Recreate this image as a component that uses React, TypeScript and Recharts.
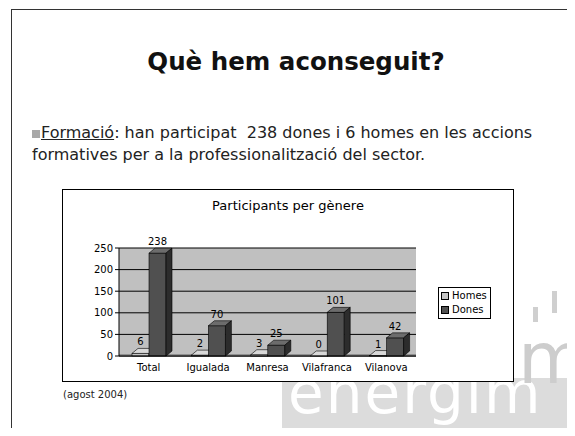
import React from "react"
import {BarChart, Bar, XAxis, YAxis, CartesianGrid, LabelList, ReferenceArea} from 'recharts';

const categories = ['Total', 'Igualada', 'Manresa', 'Vilafranca', 'Vilanova'];
const homes = [6, 2, 3, 0, 1];
const dones = [238, 70, 25, 101, 42];
const yTicks = [0, 50, 100, 150, 200, 250];

const data = categories.map((name, i) => ({ name, Homes: homes[i], Dones: dones[i] }));

const colors = {
    Homes: { front: '#c4c4c4', top: '#d8d8d8', side: '#9a9a9a' },
    Dones: { front: '#505050', top: '#6c6c6c', side: '#2c2c2c' },
};

const DX = 6;
const DY = 5;

// draws a bar as a small 3d box
const box = (key: 'Homes' | 'Dones') => (props: any) => {
    const { x, y, width, height } = props;
    const c = colors[key];
    const h = Math.max(height, 0);
    return (
        <g stroke="#000" strokeWidth={0.6}>
            <rect x={x} y={y} width={width} height={h} fill={c.front} />
            <polygon points={`${x},${y} ${x + DX},${y - DY} ${x + width + DX},${y - DY} ${x + width},${y}`} fill={c.top} />
            <polygon points={`${x + width},${y} ${x + width + DX},${y - DY} ${x + width + DX},${y + h - DY} ${x + width},${y + h}`} fill={c.side} />
        </g>
    );
};

const font = 'DejaVu Sans';

const App = () => {
    return (
        <div style={{ position: 'relative', margin: -8, width: 575, height: 436, overflow: 'hidden', background: '#fff', fontFamily: font }}>
            {/* logo watermark */}
            <div style={{ position: 'absolute', left: 282, top: 378, width: 293, height: 58, background: '#dcdcdc' }} />
            <div style={{ position: 'absolute', left: 288, top: 378, fontSize: 58, lineHeight: '30px', color: '#fff', letterSpacing: 2, whiteSpace: 'nowrap' }}>energim</div>
            <div style={{ position: 'absolute', left: 518, top: 338, fontSize: 72, lineHeight: '40px', color: '#cdcdcd' }}>m</div>
            <div style={{ position: 'absolute', left: 533, top: 307, width: 5, height: 15, background: '#cfcfcf' }} />
            <div style={{ position: 'absolute', left: 552, top: 291, width: 5, height: 22, background: '#cfcfcf' }} />
            <div style={{ position: 'absolute', left: 571, top: 270, width: 5, height: 25, background: '#cfcfcf' }} />

            {/* slide frame */}
            <div style={{ position: 'absolute', left: 11, top: 9, width: 580, height: 440, borderLeft: '1px solid #333', borderTop: '1px solid #333' }} />

            <div style={{ position: 'absolute', left: 0, width: 592, top: 47, textAlign: 'center', fontSize: 24.5, fontWeight: 'bold', color: '#111' }}>
                Què hem aconseguit?
            </div>

            <div style={{ position: 'absolute', left: 32, top: 122, fontSize: 16, lineHeight: '22px', color: '#222', width: 545, whiteSpace: 'nowrap' }}>
                <span style={{ display: 'inline-block', width: 8, height: 8, background: '#a8a8a8', marginRight: 1 }} />
                <span style={{ textDecoration: 'underline' }}>Formació</span>: han participat&nbsp; 238 dones i 6 homes en les accions
                <br />
                formatives per a la professionalització del sector.
            </div>

            <div style={{ position: 'absolute', left: 62, top: 189, width: 450, height: 191, border: '1px solid #000', background: '#fff' }}>
                <div style={{ position: 'absolute', left: 0, width: 450, top: 8, textAlign: 'center', fontSize: 13, color: '#000' }}>
                    Participants per gènere
                </div>
                <BarChart width={450} height={191} data={data} margin={{ top: 58, right: 97, bottom: 5, left: 0 }} barGap={0} barSize={17}>
                    <CartesianGrid vertical={false} stroke="#000" fill="#c0c0c0" />
                    <ReferenceArea y1={0} y2={4} fill="#808080" fillOpacity={1} stroke="none" />
                    <XAxis dataKey="name" height={20} stroke="#000" tickLine={false} tick={{ fontSize: 10, fill: '#000', fontFamily: font }} />
                    <YAxis width={56} domain={[0, 250]} ticks={yTicks} interval={0} stroke="#000" tickSize={4} tick={{ fontSize: 10, fill: '#000', fontFamily: font }} />
                    <Bar dataKey="Homes" shape={box('Homes')} isAnimationActive={false}>
                        <LabelList dataKey="Homes" position="top" offset={8} style={{ fontSize: 10, fill: '#000', fontFamily: font }} />
                    </Bar>
                    <Bar dataKey="Dones" shape={box('Dones')} isAnimationActive={false}>
                        <LabelList dataKey="Dones" position="top" offset={8} style={{ fontSize: 10, fill: '#000', fontFamily: font }} />
                    </Bar>
                </BarChart>
                {/* legend */}
                <div style={{ position: 'absolute', left: 375, top: 97, border: '1px solid #000', background: '#fff', padding: '1px 3px 1px 2px', fontSize: 10, lineHeight: '14px' }}>
                    {(['Homes', 'Dones'] as const).map(k => (
                        <div key={k} style={{ display: 'flex', alignItems: 'center' }}>
                            <span style={{ display: 'inline-block', width: 6, height: 6, background: colors[k].front, border: '1px solid #000', marginRight: 3 }} />
                            {k}
                        </div>
                    ))}
                </div>
            </div>

            <div style={{ position: 'absolute', left: 63, top: 389, fontSize: 10, color: '#222' }}>(agost 2004)</div>
        </div>
    )
};

export default App;
